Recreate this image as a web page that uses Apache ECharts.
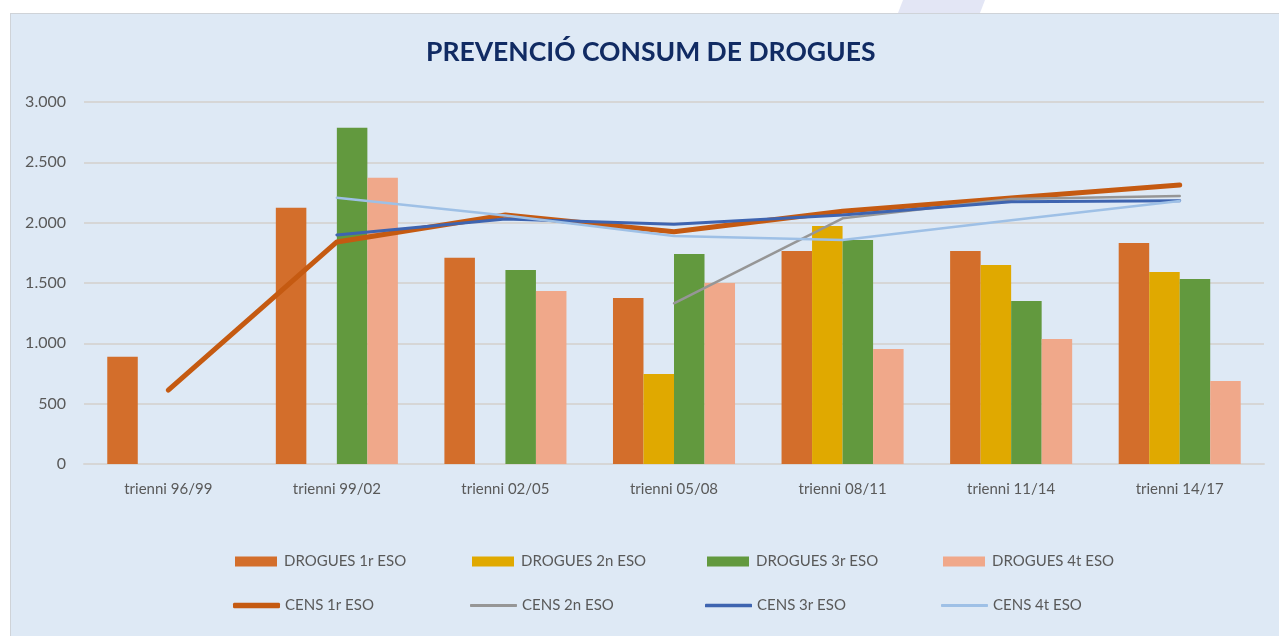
<!DOCTYPE html>
<html>
<head>
<meta charset="utf-8">
<script src="https://cdn.jsdelivr.net/npm/echarts@6/dist/echarts.min.js"></script>
<style>
	html, body { margin: 0; padding: 0; background: #ffffff; }
	#deco { position: absolute; left: 0; top: 0; width: 1279px; height: 636px; }
	#panel { position: absolute; left: 10px; top: 13px; width: 1269px; height: 623px; background: #dee9f5; border-left: 1px solid #cfd3d8; border-top: 1px solid #cfd3d8; box-sizing: border-box; }
	#chart_1 { position: absolute; left: 0; top: 0; width: 1279px; height: 636px; }
</style>
</head>
<body>
<svg id="deco" width="1279" height="636"><polygon points="903,0 985,0 980,13 898,13" fill="#e3e6f5"/></svg>
<div id="panel"></div>
<div id="chart_1"></div>
<script>
// categories
var xData = ['trienni 96/99', 'trienni 99/02', 'trienni 02/05', 'trienni 05/08', 'trienni 08/11', 'trienni 11/14', 'trienni 14/17'];

// barres
var drogues1r = [889, 2124, 1710, 1376, 1765, 1765, 1831];
var drogues2n = [null, null, null, 746, 1972, 1649, 1591];
var drogues3r = [null, 2787, 1608, 1740, 1856, 1351, 1533];
var drogues4t = [null, 2373, 1434, 1500, 953, 1036, 688];

// linies
var cens1r = [613, 1840, 2063, 1925, 2095, 2204, 2312];
var cens2n = [null, null, null, 1332, 2036, 2196, 2221];
var cens3r = [null, 1898, 2030, 1986, 2063, 2174, 2182];
var cens4t = [null, 2207, 2060, 1889, 1856, 2020, 2179];

var yTicks = [0, 500, 1000, 1500, 2000, 2500, 3000];

var fontName = 'Lato';
var textGrey = '#595959';

var barNames = ['DROGUES 1r ESO', 'DROGUES 2n ESO', 'DROGUES 3r ESO', 'DROGUES 4t ESO'];
var lineNames = ['CENS 1r ESO', 'CENS 2n ESO', 'CENS 3r ESO', 'CENS 4t ESO'];
var barColors = ['#d36e2b', '#e0a900', '#62993e', '#f0a88a'];
var lineColors = ['#c55a11', '#969696', '#3e64b0', '#9ec0e6'];
var lineWidths = [5, 2.5, 3, 2.5];

function milers(v) {
	var s = String(v);
	if (s.length > 3) {
		s = s.slice(0, s.length - 3) + '.' + s.slice(-3);
	}
	return s;
}

function barSerie(i, data) {
	return {
		name: barNames[i],
		type: 'bar',
		data: data,
		barGap: '0%',
		barCategoryGap: '27.6%',
		itemStyle: { color: barColors[i] }
	};
}

function lineSerie(i, data) {
	return {
		name: lineNames[i],
		type: 'line',
		data: data,
		symbol: 'none',
		showSymbol: false,
		lineStyle: { color: lineColors[i], width: lineWidths[i], cap: 'round', join: 'round' },
		itemStyle: { color: lineColors[i] }
	};
}

// una llegenda per element, per fixar la posicio
var legends = [];
var legLeft = [230, 467, 702, 938];
for (var i = 0; i < 4; i++) {
	legends.push({
		data: [barNames[i]],
		left: legLeft[i],
		top: 549,
		icon: 'rect',
		itemWidth: 42,
		itemHeight: 10,
		textStyle: { fontFamily: fontName, fontSize: 15, color: textGrey, padding: [0, 0, 0, 2] }
	});
	legends.push({
		data: [{ name: lineNames[i], icon: 'roundRect', itemStyle: { color: lineColors[i] } }],
		left: legLeft[i] - 2,
		top: 593,
		itemWidth: 47,
		itemHeight: lineWidths[i] + 0.5,
		textStyle: { fontFamily: fontName, fontSize: 15, color: textGrey, padding: [0, 0, 0, 0] }
	});
}

var option = {
	animation: false,
	title: {
		text: 'PREVENCIÓ CONSUM DE DROGUES',
		left: 421,
		top: 34,
		textStyle: {
			fontFamily: fontName,
			fontSize: 26.5,
			fontWeight: 'bold',
			color: '#112b63'
		}
	},
	grid: {
		left: 84,
		right: 15,
		top: 102,
		bottom: 172
	},
	legend: legends,
	xAxis: {
		type: 'category',
		data: xData,
		axisTick: { show: false },
		axisLine: { lineStyle: { color: '#d6d6d6', width: 2 } },
		axisLabel: { fontFamily: fontName, fontSize: 15, color: textGrey, margin: 18 }
	},
	yAxis: {
		type: 'value',
		min: yTicks[0],
		max: yTicks[yTicks.length - 1],
		interval: 500,
		axisLine: { show: false },
		axisTick: { show: false },
		splitLine: { lineStyle: { color: '#d6d6d6', width: 2 } },
		axisLabel: {
			fontFamily: fontName,
			fontSize: 16,
			color: textGrey,
			margin: 18,
			formatter: function (v) { return milers(v); }
		}
	},
	series: [
		barSerie(0, drogues1r),
		barSerie(1, drogues2n),
		barSerie(2, drogues3r),
		barSerie(3, drogues4t),
		lineSerie(0, cens1r),
		lineSerie(1, cens2n),
		lineSerie(2, cens3r),
		lineSerie(3, cens4t)
	]
};

var myChart = echarts.init(document.getElementById('chart_1'));
myChart.setOption(option);
</script>
</body>
</html>
